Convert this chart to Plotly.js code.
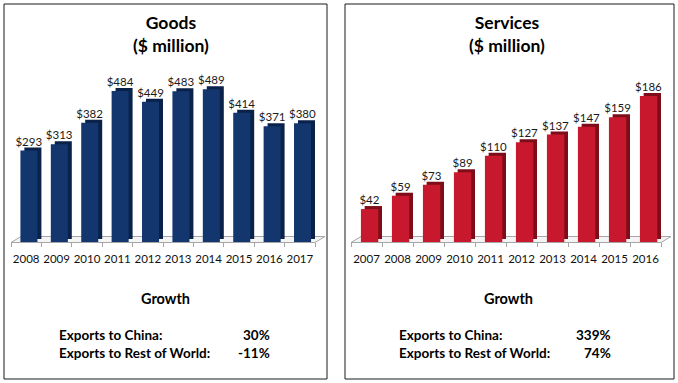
<!DOCTYPE html>
<html>
<head>
<meta charset="utf-8">
<script src="https://cdn.plot.ly/plotly-3.0.1.min.js"></script>
<style>html,body{margin:0;padding:0;background:#fff;}#chart{width:678px;height:383px;}</style>
</head>
<body>
<div id="chart"></div>
<script>
// ---- data ----
const goodsYears = ['2008','2009','2010','2011','2012','2013','2014','2015','2016','2017'];
const goodsValues = [293, 313, 382, 484, 449, 483, 489, 414, 371, 380];
const servicesYears = ['2007','2008','2009','2010','2011','2012','2013','2014','2015','2016'];
const servicesValues = [42, 59, 73, 89, 110, 127, 137, 147, 159, 186];
const panelTitles = ['Goods<br>($ million)', 'Services<br>($ million)'];
const growthLabels = ['Exports to China:', 'Exports to Rest of World:'];
const goodsGrowth = ['30%', '-11%'];
const servicesGrowth = ['339%', '74%'];

// ---- layout helpers (pixel -> paper) ----
const W = 678, H = 383;
const px = x => x / W;
const py = y => 1 - y / H;
const FONT = 'Lato, "Open Sans", sans-serif';

const yDomain = [py(242), py(60)];
const plotH = 182;
const goodsMax = 583, servMax = 232;
const liftPx = 3;

function barTraces(xs, ys, xa, ya, front, side, rangeMax, off, wid, sideShift) {
  const lift = liftPx * rangeMax / plotH;
  return [
    {type:'bar', x:xs, y:ys, base:lift, xaxis:xa, yaxis:ya,
     offset: off + sideShift, width: wid,
     marker:{color:side, line:{width:0}}, hoverinfo:'skip', showlegend:false},
    {type:'bar', x:xs, y:ys, xaxis:xa, yaxis:ya,
     offset: off, width: wid,
     marker:{color:front, line:{width:0}},
     text: ys.map(v => '$' + v), textposition:'outside', cliponaxis:false,
     constraintext:'none',
     textfont:{family:FONT, size:11.5, color:'#1a1a1a'},
     showlegend:false}
  ];
}

const data = [
  ...barTraces(goodsYears, goodsValues, 'x', 'y', '#13366e', '#0a2149', goodsMax, -0.19, 0.56, 0.13),
  ...barTraces(servicesYears, servicesValues, 'x2', 'y2', '#c8182d', '#7d0d18', servMax, -0.18, 0.56, 0.12)
];

const xCommon = {
  type:'category', showgrid:false, zeroline:false, showline:true,
  linecolor:'#a6a6a6', linewidth:1, ticks:'outside', tickson:'boundaries',
  ticklen:4, tickcolor:'#a6a6a6', ticklabelstandoff:6, tickangle:0,
  tickfont:{family:FONT, size:11.5, color:'#111'}, fixedrange:true
};
const yCommon = {domain:yDomain, showgrid:false, zeroline:false, showline:false,
  showticklabels:false, ticks:'', fixedrange:true};

function floor(x0, x1, dx) {
  return {type:'path', xref:'paper', yref:'paper', layer:'below',
    path:`M ${px(x0)},${py(242.5)} L ${px(x1)},${py(242.5)} L ${px(x1+dx)},${py(236.5)} L ${px(x0+dx)},${py(236.5)} Z`,
    fillcolor:'#f4f4f4', line:{color:'#a6a6a6', width:1}};
}

const shapes = [
  {type:'rect', xref:'paper', yref:'paper', x0:px(4), x1:px(327), y0:py(379), y1:py(4),
   line:{color:'#1a1a1a', width:1}, fillcolor:'rgba(0,0,0,0)'},
  {type:'rect', xref:'paper', yref:'paper', x0:px(345), x1:px(674), y0:py(379), y1:py(4),
   line:{color:'#1a1a1a', width:1}, fillcolor:'rgba(0,0,0,0)'},
  floor(11, 315, 10),
  floor(351, 661, 10)
];

function ann(text, x, y, size, xanchor) {
  return {text:text, xref:'paper', yref:'paper', x:px(x), y:py(y), xanchor:xanchor||'center',
    yanchor:'middle', showarrow:false, font:{family:FONT, size:size, color:'#000', weight:'bold'}};
}

const annotations = [
  ann('<b>' + panelTitles[0].replace('<br>', '</b><br><b>') + '</b>', 171, 34, 17.5),
  ann('<b>' + panelTitles[1].replace('<br>', '</b><br><b>') + '</b>', 507, 34, 17.5),
  ann('<b>Growth</b>', 165, 298, 14.5),
  ann('<b>Growth</b>', 508, 298, 14.5),
  ann('<b>' + growthLabels[0] + '</b>', 57, 335, 13.5, 'left'),
  ann('<b>' + growthLabels[1] + '</b>', 57, 353, 13.5, 'left'),
  ann('<b>' + goodsGrowth[0] + '</b>', 272, 335, 13.5, 'right'),
  ann('<b>' + goodsGrowth[1] + '</b>', 272, 353, 13.5, 'right'),
  ann('<b>' + growthLabels[0] + '</b>', 397, 335, 13.5, 'left'),
  ann('<b>' + growthLabels[1] + '</b>', 397, 353, 13.5, 'left'),
  ann('<b>' + servicesGrowth[0] + '</b>', 613, 335, 13.5, 'right'),
  ann('<b>' + servicesGrowth[1] + '</b>', 613, 353, 13.5, 'right')
];

const layout = {
  width:W, height:H, margin:{l:0, r:0, t:0, b:0},
  paper_bgcolor:'#fff', plot_bgcolor:'rgba(0,0,0,0)',
  barmode:'overlay', showlegend:false,
  xaxis: Object.assign({}, xCommon, {domain:[px(11), px(315)], anchor:'y'}),
  yaxis: Object.assign({}, yCommon, {range:[0, goodsMax], anchor:'x'}),
  xaxis2: Object.assign({}, xCommon, {domain:[px(351), px(661)], anchor:'y2'}),
  yaxis2: Object.assign({}, yCommon, {range:[0, servMax], anchor:'x2'}),
  shapes: shapes,
  annotations: annotations
};

Plotly.newPlot('chart', data, layout, {displayModeBar:false, staticPlot:true});
</script>
</body>
</html>
